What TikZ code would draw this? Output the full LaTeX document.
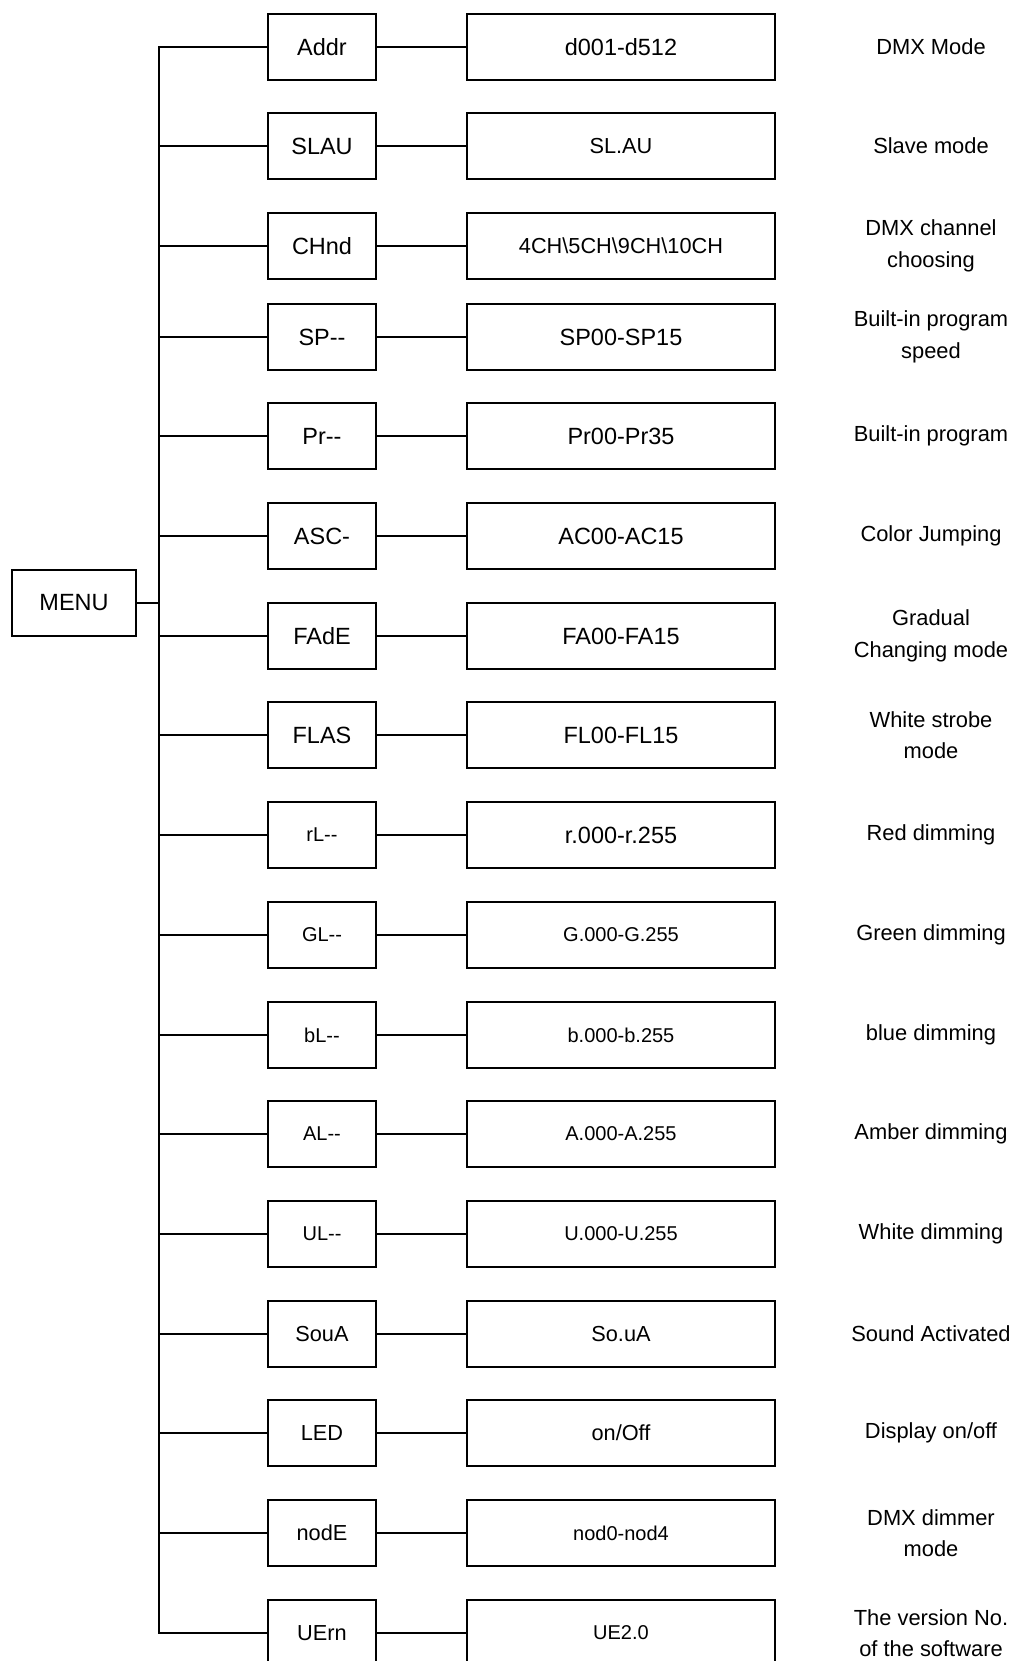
\documentclass[tikz,border=0pt]{standalone}
\usepackage{fontspec}
\setmainfont{Liberation Sans}
\newcommand{\fsA}{\fontsize{17.6pt}{21pt}\selectfont}
\newcommand{\fsB}{\fontsize{16.3pt}{21pt}\selectfont}
\newcommand{\fsC}{\fontsize{15pt}{18pt}\selectfont}
\newcommand{\twodash}{\mbox{-}\mbox{-}}

\begin{document}
\begin{tikzpicture}[x=0.75pt,y=-0.75pt,line width=1.5pt]
    \tikzstyle{keybox}=[rectangle,draw=black,minimum width=81pt,minimum height=49.5pt,inner sep=0pt]
    \tikzstyle{valbox}=[rectangle,draw=black,minimum width=231pt,minimum height=49.5pt,inner sep=0pt]
    \tikzstyle{note}=[align=center,inner sep=0pt,font=\fontsize{16.4pt}{23.7pt}\selectfont]
    \useasboundingbox (0,0) rectangle (1014,1661);

    \node[keybox,minimum width=93pt,font=\fsA] (MENU) at (74,603) {MENU};

    \foreach \n/\y/\key/\val/\txt in {
            1/47/{\fsA Addr}/{\fsA d001-d512}/{DMX Mode},
            2/146/{\fsA SLAU}/{\fsB SL.AU}/{Slave mode},
            3/246/{\fsA CHnd}/{\fsB 4CH\textbackslash 5CH\textbackslash 9CH\textbackslash 10CH}/{DMX channel\\choosing},
            4/337/{\fsA SP\twodash}/{\fsA SP00-SP15}/{Built-in program\\speed},
            5/436/{\fsA Pr\twodash}/{\fsA Pr00-Pr35}/{Built-in program},
            6/536/{\fsA ASC-}/{\fsA AC00-AC15}/{Color Jumping},
            7/636/{\fsA FAdE}/{\fsA FA00-FA15}/{Gradual\\Changing mode},
            8/735/{\fsA FLAS}/{\fsA FL00-FL15}/{White strobe\\mode},
            9/835/{\fsC rL\twodash}/{\fsA r.000-r.255}/{Red dimming},
            10/935/{\fsC GL\twodash}/{\fsC G.000-G.255}/{Green dimming},
            11/1035/{\fsC bL\twodash}/{\fsC b.000-b.255}/{blue dimming},
            12/1134/{\fsC AL\twodash}/{\fsC A.000-A.255}/{Amber dimming},
            13/1234/{\fsC UL\twodash}/{\fsC U.000-U.255}/{White dimming},
            14/1334/{\fsB SouA}/{\fsB So.uA}/{Sound Activated},
            15/1433/{\fsB LED}/{\fsB on/Off}/{Display on/off},
            16/1533/{\fsB nodE}/{\fsC nod0-nod4}/{DMX dimmer\\mode},
            17/1633/{\fsB UErn}/{\fsC UE2.0}/{The version No.\\of the software}}
    {
        \node[keybox] (K-\n) at (322,\y) {\key};
        \node[valbox] (V-\n) at (621,\y) {\val};
        \node[note] (N-\n) at (931,\y) {\txt};
        \coordinate (T-\n) at (159,\y);
        \draw (T-\n) -- (K-\n);
        \draw (K-\n) -- (V-\n);
    }

    % trunk and menu link
    \draw[line cap=rect] (T-1) -- (T-17);
    \draw (MENU) -- (MENU -| T-1);
\end{tikzpicture}
\end{document}
